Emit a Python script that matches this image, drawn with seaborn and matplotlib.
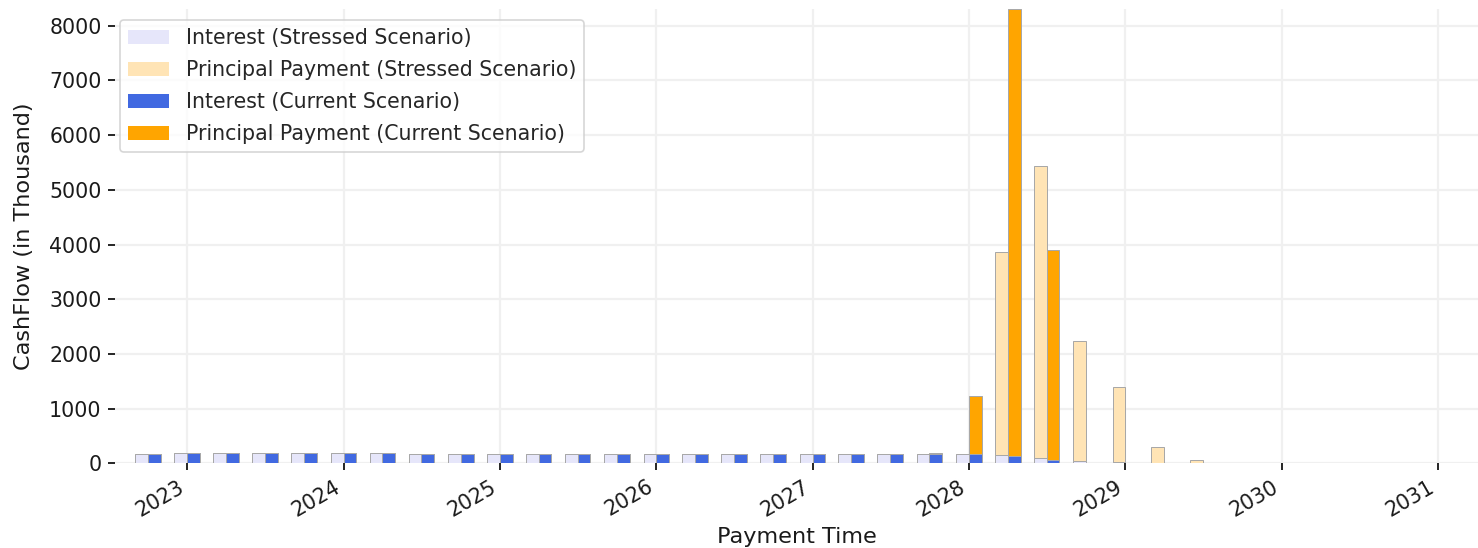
import numpy as np
import pandas as pd
import matplotlib
matplotlib.use('Agg')
import matplotlib.pyplot as plt
import matplotlib.dates as mdates
import seaborn as sns

# quarterly payment dates
pay_dates = pd.date_range('2022-10-01', periods=28, freq='QS')

# cashflows in thousand
interest_stressed = [165, 195, 195, 195, 195, 195, 195, 172, 172, 172, 172, 172, 172, 172,
                     172, 168, 168, 168, 168, 168, 168, 168, 160, 105, 45, 18, 5, 1]
principal_stressed = [0, 0, 0, 0, 0, 0, 0, 0, 0, 0, 0, 0, 0, 0,
                      0, 0, 0, 0, 0, 0, 0, 0, 3700, 5335, 2190, 1382, 295, 50]
interest_current = [165, 195, 195, 195, 195, 195, 195, 172, 172, 172, 172, 172, 172, 172,
                    172, 168, 168, 168, 168, 168, 168, 168, 133, 57, 0, 0, 0, 0]
principal_current = [0, 0, 0, 0, 0, 0, 0, 0, 0, 0, 0, 0, 0, 0,
                     0, 0, 0, 0, 0, 0, 27, 1055, 8170, 3845, 0, 0, 0, 0]

df = pd.DataFrame({'date': pay_dates,
                   'int_s': interest_stressed, 'prin_s': principal_stressed,
                   'int_c': interest_current, 'prin_c': principal_current})

sns.set_theme(style='ticks', context='notebook')
plt.rcParams['font.family'] = ['DejaVu Sans']

fig = plt.figure(figsize=(1478 / 120, 548 / 120), dpi=120)
ax = fig.add_axes([0.0778, 0.1546, 0.9222, 0.8284])

bar_w = 30  # days
ec = '#a8a8a8'
lw = 0.6
ax.bar(df['date'], df['int_s'], width=-bar_w, align='edge', color='lavender',
       edgecolor=ec, linewidth=lw, label='Interest (Stressed Scenario)')
ax.bar(df['date'], df['prin_s'], width=-bar_w, align='edge', bottom=df['int_s'],
       color='moccasin', edgecolor=ec, linewidth=lw, label='Principal Payment (Stressed Scenario)')
ax.bar(df['date'], df['int_c'], width=bar_w, align='edge', color='royalblue',
       edgecolor=ec, linewidth=lw, label='Interest (Current Scenario)')
ax.bar(df['date'], df['prin_c'], width=bar_w, align='edge', bottom=df['int_c'],
       color='orange', edgecolor=ec, linewidth=lw, label='Principal Payment (Current Scenario)')

ax.set_xlim(pd.Timestamp('2022-07-16'), pd.Timestamp('2031-04-05'))
ax.set_ylim(0, 8300)
ax.xaxis.set_major_locator(mdates.YearLocator())
ax.xaxis.set_major_formatter(mdates.DateFormatter('%Y'))
plt.setp(ax.get_xticklabels(), rotation=30, ha='right')
ax.tick_params(length=4, width=1, pad=4, colors='black', labelcolor='#1a1a1a', labelsize=12.3)

ax.grid(True, color='#f0f0f0', linewidth=1.3)
ax.set_axisbelow(True)
sns.despine(ax=ax, left=True, bottom=True, top=True, right=True)

ax.set_xlabel('Payment Time', fontsize=13.4, color='#1a1a1a', labelpad=4)
ax.set_ylabel('CashFlow (in Thousand)', fontsize=13.4, color='#1a1a1a', labelpad=9)
leg = ax.legend(loc='upper left', bbox_to_anchor=(0.0037, 0.976), borderaxespad=0,
                fontsize=12.3, labelspacing=0.58)
for h in leg.legend_handles:
    h.set_edgecolor('none')

fig.savefig('out.png', dpi=120)
